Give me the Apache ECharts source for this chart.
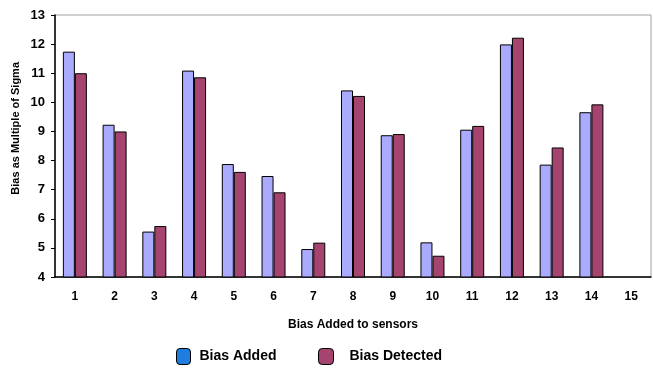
<!DOCTYPE html>
<html><head><meta charset="utf-8">
<script src="https://cdn.jsdelivr.net/npm/echarts@6/dist/echarts.min.js"></script>
<style>html,body{margin:0;padding:0;background:#fff}#c{width:653px;height:368px}</style>
</head><body><div id="c"></div>
<script>
const categories = ['1','2','3','4','5','6','7','8','9','10','11','12','13','14','15'];
const biasAdded = [11.74, 9.23, 5.56, 11.09, 7.88, 7.47, 4.96, 10.41, 8.87, 5.19, 9.06, 11.99, 7.86, 9.66, null];
const biasDetected = [11.0, 9.0, 5.75, 10.86, 7.61, 6.91, 5.18, 10.22, 8.91, 4.73, 9.19, 12.22, 8.45, 9.93, null];
const yTicks = {min: 4, max: 13, interval: 1};

const font = 'Liberation Sans, Arial, sans-serif';
const legText = {fontFamily: font, fontWeight: 'bold', fontSize: 14, color: '#000'};
const chart = echarts.init(document.getElementById('c'));
chart.setOption({
  animation: false,
  grid: {left: 55, right: 2, top: 15, bottom: 91, show: true, borderColor: '#a0a0a0', borderWidth: 1},
  legend: [
    {top: 348, left: 176, itemWidth: 14, itemHeight: 16, padding: 0,
     textStyle: Object.assign({padding: [0, 0, 0, 4]}, legText),
     data: [{name: 'Bias Added', itemStyle: {color: '#1f7de0', borderColor: '#000', borderWidth: 1}}]},
    {top: 348, left: 318, itemWidth: 15, itemHeight: 16, padding: 0,
     textStyle: Object.assign({padding: [0, 0, 0, 11]}, legText),
     data: [{name: 'Bias Detected', itemStyle: {color: '#a5456f', borderColor: '#000', borderWidth: 1}}]}
  ],
  xAxis: {
    type: 'category', data: categories,
    name: 'Bias Added to sensors', nameLocation: 'middle', nameGap: 42,
    nameTextStyle: {fontFamily: font, fontWeight: 'bold', fontSize: 12, color: '#000'},
    axisLine: {lineStyle: {color: '#000', width: 1.5}},
    axisTick: {length: 4, lineStyle: {color: '#000'}},
    axisLabel: {fontFamily: font, fontWeight: 'bold', fontSize: 12, color: '#000', margin: 14}
  },
  yAxis: {
    type: 'value', min: yTicks.min, max: yTicks.max, interval: yTicks.interval,
    splitLine: {show: false},
    axisLine: {show: true, lineStyle: {color: '#000', width: 1.5}},
    axisTick: {show: true, length: 4, lineStyle: {color: '#000'}},
    axisLabel: {fontFamily: font, fontWeight: 'bold', fontSize: 13, color: '#000', margin: 10}
  },
  graphic: [{
    type: 'text', left: 10, top: 62, rotation: Math.PI / 2,
    style: {text: 'Bias as Multiple of Sigma', fontFamily: font, fontWeight: 'bold', fontSize: 11, fill: '#000'}
  }],
  series: [
    {name: 'Bias Added', type: 'bar', data: biasAdded, barWidth: 12, barGap: '0%',
     itemStyle: {color: '#aaaaff', borderColor: '#000', borderWidth: 1}},
    {name: 'Bias Detected', type: 'bar', data: biasDetected, barWidth: 12,
     itemStyle: {color: '#a5456f', borderColor: '#000', borderWidth: 1}}
  ]
});
</script></body></html>
